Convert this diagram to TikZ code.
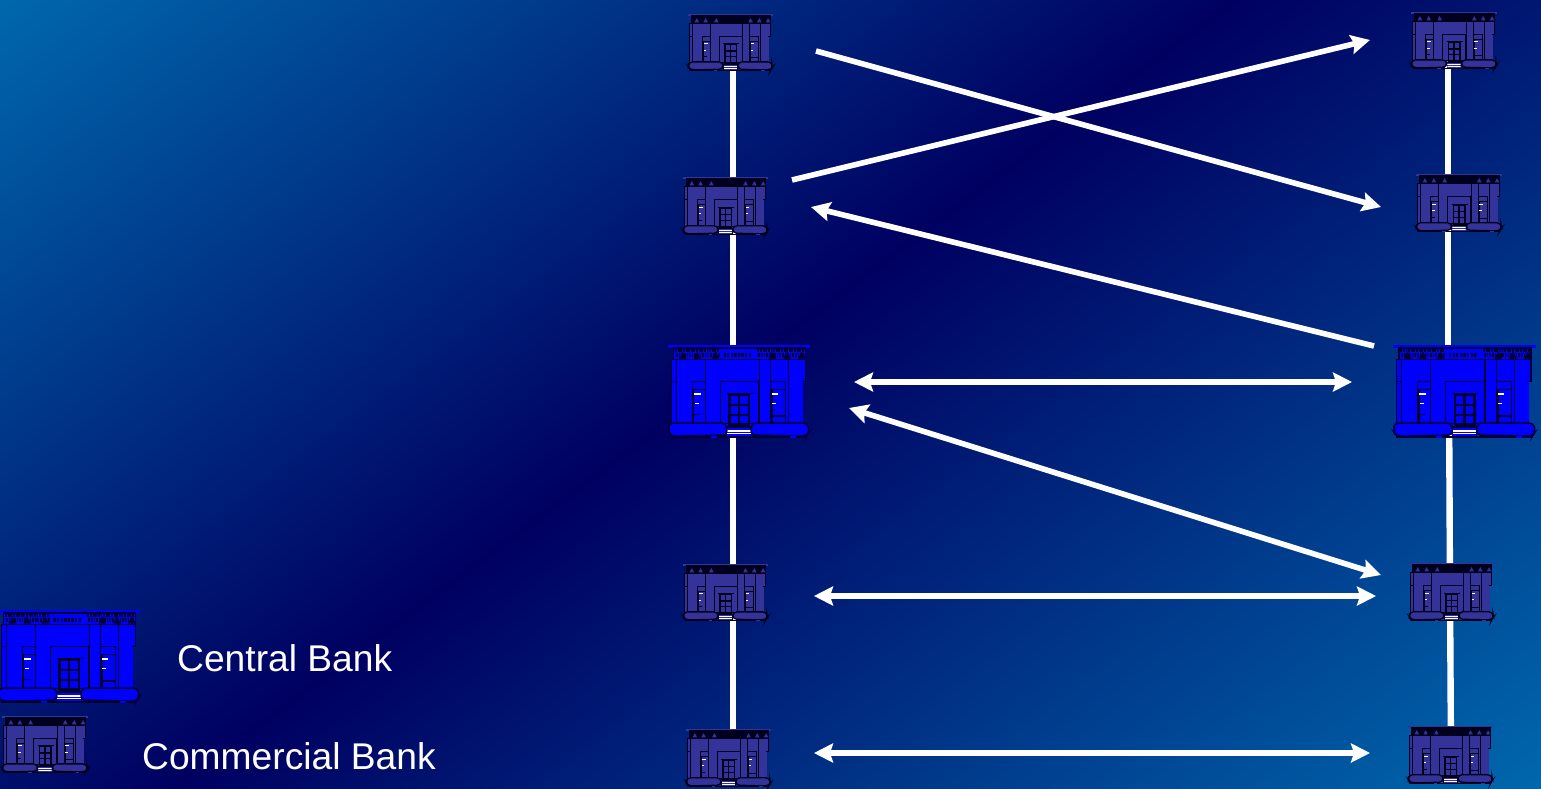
\documentclass[tikz,border=0pt]{standalone}
\usepackage{fontspec}
\setmainfont{Liberation Sans}
\usetikzlibrary{arrows.meta}
\pgfdeclarehorizontalshading{bgshade}{2100bp}{
  rgb(0bp)=(0,0.41,0.68);
  rgb(739bp)=(0,0,0.38);
  rgb(1556bp)=(0,0.41,0.68)}
\definecolor{inkc}{RGB}{0,0,50}
\definecolor{bluec}{RGB}{0,0,255}
\definecolor{bluem}{RGB}{51,51,153}
\definecolor{inkm}{RGB}{0,0,30}
\newcommand{\centralfrieze}{%
  \foreach \u in {22,30,...,150,274,282,...,414}{
    \fill[inkc] (\u,13) rectangle (\u+6,22);
    \fill[inkc] (\u+3,25) rectangle (\u+8,35);}
  \foreach \u in {170,181,...,252}{
    \fill[inkc] (\u,23) rectangle (\u+7,37);}
}
% #1 fill, #2 frieze ground, #3 frieze ornament, #4 ink, #5 line width
\newcommand{\bankdraw}[5]{%
  \fill[#1] (0,0) rectangle (435,9);
  \fill[#1] (10,45) -- (420,45) -- (420,110) -- (414,110) -- (414,245) -- (10,245) -- cycle;
  \draw[#4,line width=#5,fill=#2] (18,9) rectangle (420,45);
  \foreach \u in {45,90,145,320,365,410}{
    \fill[#3] (\u-12,41) -- (\u,20) -- (\u+12,41) -- cycle;}
  \friezeextra
  \draw[#4,line width=#5] (10,45) -- (420,45);
  \foreach \u in {10,25,115,280,370}{
    \draw[#4,line width=#5] (\u,45) -- (\u,240);}
  \draw[#4,line width=#5] (315,45) -- (315,110);
  \draw[#4,line width=#5] (10,110) -- (25,110) (420,45) -- (420,110) -- (411,110);
  % windows
  \draw[#4,line width=#5,fill=#1] (75,110) rectangle (115,238);
  \draw[#4,line width=#5] (75,135) -- (115,135);
  \draw[#4,line width=1.6*#5] (78,135) -- (78,238);
  \draw[#4,line width=#5,fill=#1] (315,110) rectangle (360,238);
  \draw[#4,line width=#5] (315,135) -- (360,135);
  \draw[#4,line width=1.6*#5] (318,135) -- (318,238);
  \fill[white] (80,145) rectangle (100,150);
  \fill[white] (82,176) rectangle (94,179);
  \fill[white] (320,145) rectangle (338,150);
  \fill[white] (320,176) rectangle (332,179);
  \fill[#4] (78,208) rectangle (98,213);
  \fill[#4] (318,212) rectangle (358,217);
  % door frame and door
  \draw[#4,line width=#5,fill=#1] (160,110) rectangle (278,238);
  \fill[#4] (180,144) rectangle (262,149);
  \fill[#4] (185,149) rectangle (252,246);
  \foreach \u in {192,222}{
    \foreach \v in {155,185,214}{
      \fill[#1] (\u,\v) rectangle (\u+22,\v+23);}}
  % steps
  \fill[#4] (180,246) rectangle (255,281);
  \fill[#1] (182,250) rectangle (253,276);
  \fill[white] (182,258) rectangle (253,263);
  \fill[white] (182,266) rectangle (253,270);
  % shrubs
  \draw[#4,line width=1.3*#5,fill=#1,rounded corners=4] (3,236) -- (178,236) -- (181,272) -- (10,276) -- (2,262) -- cycle;
  \draw[#4,line width=1.3*#5,fill=#1,rounded corners=4] (256,236) -- (428,236) -- (433,262) -- (424,276) -- (254,272) -- cycle;
  \draw[#4,line width=1.3*#5] (10,278) -- (180,278) (255,278) -- (425,278);
  \fill[#1] (132,274) rectangle (150,281);
  \fill[#1] (375,274) rectangle (392,281);
}
\tikzset{
  cbank/.pic={\let\friezeextra\centralfrieze\bankdraw{bluec}{bluec}{inkc}{inkc}{1.2pt}},
  mbank/.pic={\let\friezeextra\relax\bankdraw{bluem}{inkm}{bluem}{inkm}{1pt}},
  bankbox/.style={inner sep=0,outer sep=0},
  trunk/.style={white,line width=6.4pt},
  flow/.style={white,line width=5.6pt,-{Stealth[length=19pt,width=19pt,inset=3pt]}},
  flowboth/.style={white,line width=5.6pt,{Stealth[length=19pt,width=19pt,inset=3pt]}-{Stealth[length=19pt,width=19pt,inset=3pt]}},
  legend/.style={white,font=\fontsize{37.2}{37.2}\selectfont,inner sep=0,anchor=base west}
}
\begin{document}
\begin{tikzpicture}[x=1pt,y=-1pt]
\useasboundingbox (0,0) rectangle (1541,789);
\clip (0,0) rectangle (1541,789);
\node[inner sep=0,rotate=-53.4] (bg) at (728,425) {\pgfuseshading{bgshade}};

\coordinate (lx) at (733,0);
\coordinate (rxa) at (1448,0);
\coordinate (rxb) at (1451,0);

% positions of the banks
\node[bankbox,minimum width=85pt,minimum height=57pt] (a1) at (730.5,42.5) {};
\node[bankbox,minimum width=85pt,minimum height=58pt] (a2) at (725.5,206) {};
\node[bankbox,minimum width=142pt,minimum height=93pt] (a3) at (739,391.5) {};
\node[bankbox,minimum width=85pt,minimum height=57pt] (a4) at (725.5,592.5) {};
\node[bankbox,minimum width=85pt,minimum height=58pt] (a5) at (728.5,758) {};
\node[bankbox,minimum width=86pt,minimum height=57pt] (b1) at (1454,40.5) {};
\node[bankbox,minimum width=86pt,minimum height=58pt] (b2) at (1459,203) {};
\node[bankbox,minimum width=143pt,minimum height=93pt] (b3) at (1464.5,391.5) {};
\node[bankbox,minimum width=85pt,minimum height=58pt] (b4) at (1451.5,592) {};
\node[bankbox,minimum width=85pt,minimum height=58pt] (b5) at (1450.5,755) {};
\node[bankbox,minimum width=142pt,minimum height=93pt] (lc) at (69,656.5) {};
\node[bankbox,minimum width=86pt,minimum height=57pt] (lm) at (45,744.5) {};

% vertical lines
\draw[trunk] (lx |- a1) -- (lx |- a2);
\draw[trunk] (lx |- a2) -- (lx |- a3);
\draw[trunk] (lx |- a3) -- (lx |- a4);
\draw[trunk] (lx |- a4) -- (lx |- a5);
\draw[trunk] (rxa |- b1) -- (rxa |- b2);
\draw[trunk] (rxa |- b2) -- (rxa |- b3);
\draw[trunk] ([xshift=1pt]rxa |- b3) -- ([xshift=-1pt]rxb |- b4);
\draw[trunk] ([xshift=-1pt]rxb |- b4) -- (rxb |- b5);

% bank pictures
\pic[xscale=85/435,yscale=57/281] at (a1.north west) {mbank};
\pic[xscale=85/435,yscale=58/281] at (a2.north west) {mbank};
\pic[xscale=142/435,yscale=93/281] at (a3.north west) {cbank};
\pic[xscale=85/435,yscale=57/281] at (a4.north west) {mbank};
\pic[xscale=85/435,yscale=58/281] at (a5.north west) {mbank};
\pic[xscale=86/435,yscale=57/281] at (b1.north west) {mbank};
\pic[xscale=86/435,yscale=58/281] at (b2.north west) {mbank};
\pic[xscale=143/435,yscale=93/281] at (b3.north west) {cbank};
\pic[xscale=85/435,yscale=58/281] at (b4.north west) {mbank};
\pic[xscale=85/435,yscale=58/281] at (b5.north west) {mbank};
\pic[xscale=142/435,yscale=93/281] at (lc.north west) {cbank};
\pic[xscale=86/435,yscale=57/281] at (lm.north west) {mbank};

% arrow ends
\coordinate (e1s) at (816,51);   \coordinate (e1t) at (1381,207);
\coordinate (e2s) at (792,180);  \coordinate (e2t) at (1370,40);
\coordinate (e3s) at (1374,346); \coordinate (e3t) at (811,207);
\coordinate (e4s) at (854,382);  \coordinate (e4t) at (1352,382);
\coordinate (e5s) at (849,408);  \coordinate (e5t) at (1381,575);
\coordinate (e6s) at (814,596);  \coordinate (e6t) at (1376,596);
\coordinate (e7s) at (814,753);  \coordinate (e7t) at (1370,753);
\draw[flow] (e1s) -- (e1t);
\draw[flow] (e2s) -- (e2t);
\draw[flow] (e3s) -- (e3t);
\draw[flowboth] (e4s) -- (e4t);
\draw[flowboth] (e5s) -- (e5t);
\draw[flowboth] (e6s) -- (e6t);
\draw[flowboth] (e7s) -- (e7t);

\node[legend] (tc) at (177,671) {Central Bank};
\node[legend] (tm) at (142,769) {Commercial Bank};
\end{tikzpicture}
\end{document}
